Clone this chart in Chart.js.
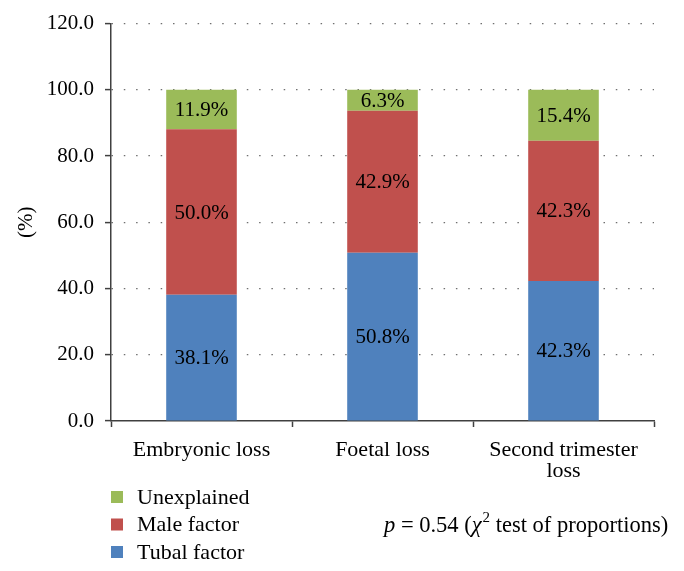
<!DOCTYPE html>
<html>
<head>
<meta charset="utf-8">
<script src="https://cdn.jsdelivr.net/npm/chart.js@4/dist/chart.umd.min.js"></script>
<style>
html,body{margin:0;padding:0;background:#fff;}
#wrap{width:684px;height:571px;position:relative;}
</style>
</head>
<body>
<div id="wrap"><canvas id="c" width="684" height="571"></canvas></div>
<script>
const categories = ["Embryonic loss", "Foetal loss", ["Second trimester", "loss"]];
const tubalFactor = [38.1, 50.8, 42.3];
const maleFactor = [50.0, 42.9, 42.3];
const unexplained = [11.9, 6.3, 15.4];
const yTicks = [0, 20, 40, 60, 80, 100, 120];
const seriesNames = ["Tubal factor", "Male factor", "Unexplained"];
const seriesColors = ["#4F81BD", "#C0504D", "#9BBB59"];

const FONT = "'Liberation Serif', 'Times New Roman', serif";
Chart.defaults.font.family = FONT;
Chart.defaults.color = "#000";

const labelPlugin = {
  id: 'segLabels',
  afterDatasetsDraw(chart) {
    const ctx = chart.ctx;
    ctx.save();
    ctx.font = "21px " + FONT;
    ctx.fillStyle = "#000";
    ctx.textAlign = "center";
    ctx.textBaseline = "middle";
    chart.data.datasets.forEach((ds, di) => {
      const meta = chart.getDatasetMeta(di);
      meta.data.forEach((el, i) => {
        const v = ds.data[i];
        ctx.fillText(v.toFixed(1) + "%", el.x, (el.y + el.base) / 2 + 1);
      });
    });
    ctx.restore();
  }
};

const legendPlugin = {
  id: 'customLegend',
  afterDraw(chart) {
    const ctx = chart.ctx;
    ctx.save();
    const dsList = chart.data.datasets.slice().reverse();
    const x0 = 111, y0 = 497, step = 27.5;
    dsList.forEach((ds, k) => {
      const y = y0 + k * step;
      ctx.fillStyle = ds.backgroundColor;
      ctx.fillRect(x0, y - 6, 12, 12);
      ctx.fillStyle = "#000";
      ctx.font = "22px " + FONT;
      ctx.textAlign = "left";
      ctx.textBaseline = "middle";
      ctx.fillText(ds.label, 137, y + 1);
    });
    // note text
    let x = 384;
    const yb = 532;
    const fs = 22.5;
    ctx.textBaseline = "alphabetic";
    ctx.font = "italic " + fs + "px " + FONT;
    ctx.fillText("p", x, yb); x += ctx.measureText("p").width;
    ctx.font = fs + "px " + FONT;
    let t = " = 0.54 (";
    ctx.fillText(t, x, yb); x += ctx.measureText(t).width;
    ctx.font = "italic " + fs + "px " + FONT;
    ctx.fillText("\u03C7", x, yb); x += ctx.measureText("\u03C7").width;
    ctx.font = "15px " + FONT;
    ctx.fillText("2", x + 1, yb - 10); x += ctx.measureText("2").width + 1;
    ctx.font = fs + "px " + FONT;
    t = " test of proportions)";
    ctx.fillText(t, x, yb);
    ctx.restore();
  }
};

new Chart(document.getElementById('c'), {
  type: 'bar',
  data: {
    labels: categories,
    datasets: [
      { label: seriesNames[0], data: tubalFactor, backgroundColor: seriesColors[0] },
      { label: seriesNames[1], data: maleFactor, backgroundColor: seriesColors[1] },
      { label: seriesNames[2], data: unexplained, backgroundColor: seriesColors[2] }
    ]
  },
  options: {
    responsive: false,
    animation: false,
    layout: { padding: { left: 0, right: 30, top: 23, bottom: 0 } },
    plugins: { legend: { display: false }, tooltip: { enabled: false } },
    datasets: { bar: { categoryPercentage: 1, barPercentage: 0.39 } },
    scales: {
      x: {
        stacked: true,
        grid: { display: true, drawOnChartArea: false, drawTicks: true, tickLength: 6, offset: true, color: '#404040', tickColor: '#404040', tickWidth: 1.5 },
        border: { display: true, color: '#404040', width: 1.5 },
        ticks: { font: { size: 22, family: FONT, lineHeight: 0.95 }, color: '#000', padding: 13, maxRotation: 0, autoSkip: false },
        afterFit(s) { s.height = 150; }
      },
      y: {
        stacked: true,
        min: yTicks[0],
        max: yTicks[yTicks.length - 1],
        afterBuildTicks(s) { s.ticks = yTicks.map(v => ({ value: v })); },
        grid: {
          color: (c) => c.tick && c.tick.value === 0 ? 'rgba(0,0,0,0)' : '#6f6f6f',
          lineWidth: 1.2,
          tickLength: 6,
          tickColor: '#404040',
          tickWidth: 1.5,
          tickBorderDash: []
        },
        border: { display: true, color: '#404040', width: 1.5, dash: [1.5, 10.8] },
        ticks: { font: { size: 21, family: FONT }, color: '#000', padding: 11, callback: (v) => Number(v).toFixed(1) },
        title: { display: true, text: '(%)', font: { size: 21, family: FONT }, color: '#000', padding: { top: 14, bottom: 0 } },
        afterFit(s) { s.width = 111; }
      }
    }
  },
  plugins: [labelPlugin, legendPlugin]
});
</script>
</body>
</html>
